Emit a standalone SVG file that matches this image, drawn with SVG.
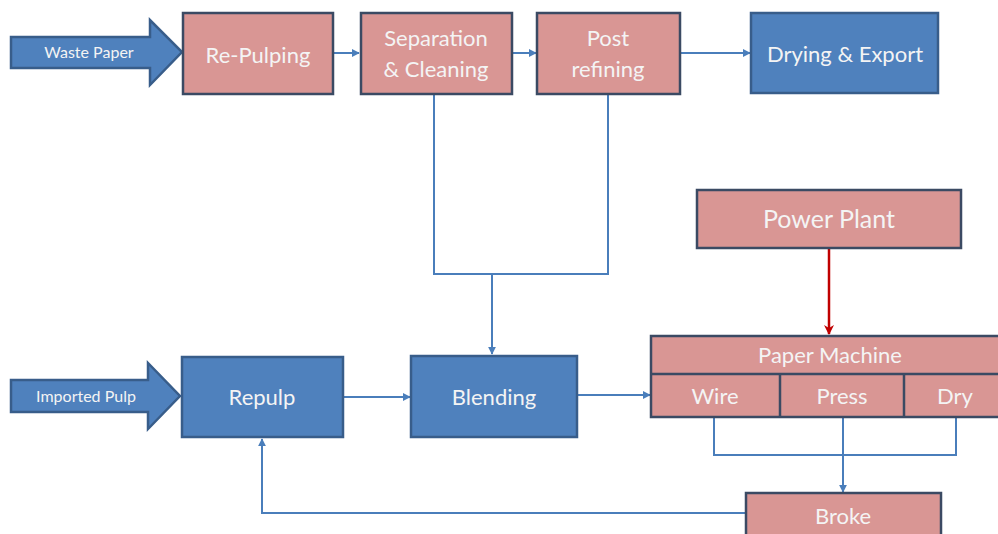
<svg xmlns="http://www.w3.org/2000/svg" width="998" height="534" viewBox="0 0 998 534">
<defs>
<style>
.pink{fill:#d99694;stroke:#3b4a63;stroke-width:2.5}
.blue{fill:#4f81bd;stroke:#385d8a;stroke-width:2.5}
.t{font-family:Lato,"Open Sans","Liberation Sans",sans-serif;fill:#f4f4f4;text-anchor:middle}
.big{font-size:22px}
.sm{font-size:16px}
.con{fill:none;stroke:#4a7ebb;stroke-width:2}
</style>
<marker id="ah" viewBox="0 0 10 10" refX="9" refY="5" markerWidth="4" markerHeight="4" orient="auto"><path d="M0,0 L10,5 L0,10 z" fill="#4a7ebb"/></marker>
<marker id="ahr" viewBox="0 0 10 10" refX="9" refY="5" markerWidth="4" markerHeight="4" orient="auto"><path d="M0,0 L10,5 L0,10 L3,5 z" fill="#c00000"/></marker>
</defs>
<rect width="998" height="534" fill="#ffffff"/>
<g id="connectors">
<path class="con" d="M333,53 H359" marker-end="url(#ah)"/>
<path class="con" d="M512,53 H536" marker-end="url(#ah)"/>
<path class="con" d="M680,53 H750" marker-end="url(#ah)"/>
<path class="con" d="M434,94 V274 H608 V94"/>
<path class="con" d="M492,274 V354" marker-end="url(#ah)"/>
<path class="con" d="M343,397 H410" marker-end="url(#ah)"/>
<path class="con" d="M577,395 H650" marker-end="url(#ah)"/>
<path d="M829,248 V334" fill="none" stroke="#c00000" stroke-width="2.5" marker-end="url(#ahr)"/>
<path class="con" d="M714,417 V455 H956 V417"/>
<path class="con" d="M843,417 V492" marker-end="url(#ah)"/>
<path class="con" d="M746,513 H262 V439" marker-end="url(#ah)"/>
</g>
<g id="waste-paper">
<path class="blue" d="M11,37 H150 V20 L182,52 L150,85 V68 H11 Z"/>
<text class="t sm" x="89" y="58">Waste Paper</text>
</g>
<g id="imported-pulp">
<path class="blue" d="M11,380 H148 V363 L180,396 L148,429 V412 H11 Z"/>
<text class="t sm" x="86" y="402">Imported Pulp</text>
</g>
<g id="re-pulping">
<rect class="pink" x="183" y="13" width="150" height="81"/>
<text class="t big" x="258" y="63">Re-Pulping</text>
</g>
<g id="separation">
<rect class="pink" x="361" y="13" width="151" height="81"/>
<text class="t big" x="436" y="46">Separation</text>
<text class="t big" x="436" y="77">&amp; Cleaning</text>
</g>
<g id="post-refining">
<rect class="pink" x="537" y="13" width="143" height="81"/>
<text class="t big" x="608" y="46">Post</text>
<text class="t big" x="608" y="77">refining</text>
</g>
<g id="drying-export">
<rect class="blue" x="751" y="13" width="187" height="80"/>
<text class="t big" x="845" y="62">Drying &amp; Export</text>
</g>
<g id="power-plant">
<rect class="pink" x="697" y="190" width="264" height="58"/>
<text class="t" style="font-size:25px" x="829" y="228">Power Plant</text>
</g>
<g id="repulp">
<rect class="blue" x="182" y="357" width="161" height="80"/>
<text class="t big" x="262" y="405">Repulp</text>
</g>
<g id="blending">
<rect class="blue" x="411" y="356" width="166" height="81"/>
<text class="t big" x="494" y="405">Blending</text>
</g>
<g id="paper-machine">
<rect class="pink" x="651" y="336" width="352" height="81"/>
<line x1="651" y1="374" x2="1003" y2="374" stroke="#3b4a63" stroke-width="2.5"/>
<line x1="780" y1="374" x2="780" y2="417" stroke="#3b4a63" stroke-width="2.5"/>
<line x1="904" y1="374" x2="904" y2="417" stroke="#3b4a63" stroke-width="2.5"/>
<text class="t" style="font-size:22px" x="830" y="363">Paper Machine</text>
<text class="t big" x="715" y="404">Wire</text>
<text class="t big" x="842" y="404">Press</text>
<text class="t big" x="955" y="404">Dry</text>
</g>
<g id="broke">
<rect class="pink" x="746" y="493" width="195" height="50"/>
<text class="t big" x="843" y="524">Broke</text>
</g>
</svg>
